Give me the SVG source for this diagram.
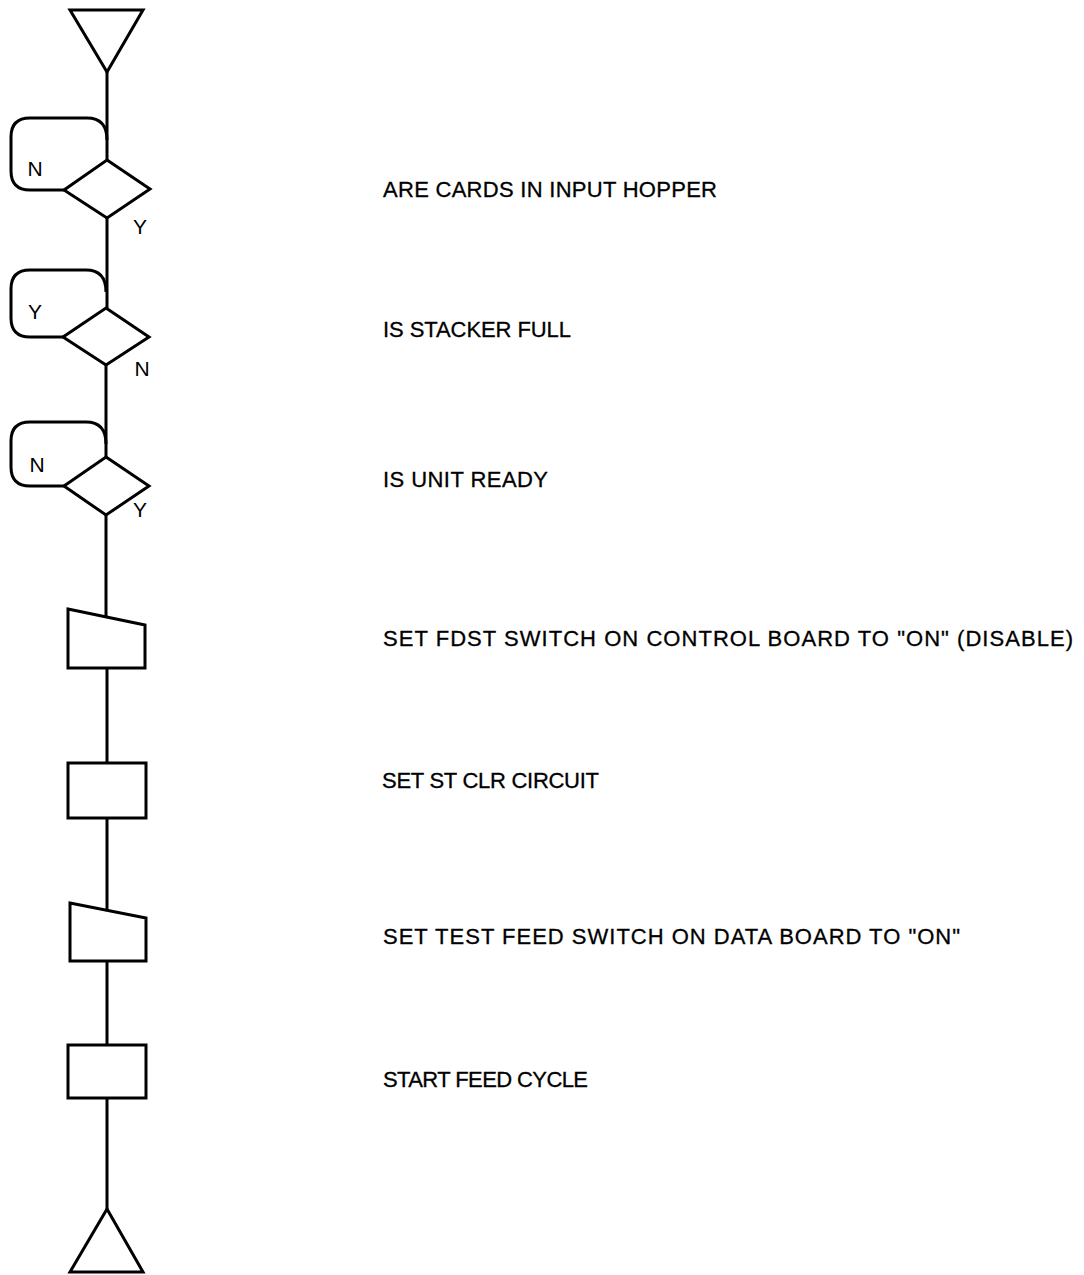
<svg xmlns="http://www.w3.org/2000/svg" width="1084" height="1275" viewBox="0 0 1084 1275">
<style>
.s{fill:#fff;stroke:#000;stroke-width:3;stroke-linejoin:miter}
.c{fill:none;stroke:#000;stroke-width:3}
.t{font-family:"Liberation Sans",Arial,sans-serif;font-size:22px;fill:#000;stroke:#000;stroke-width:0.3}
.l{font-family:"Liberation Sans",Arial,sans-serif;font-size:21px;fill:#000;text-anchor:middle}
</style>
<rect width="1084" height="1275" fill="#fff"/>
<g id="connectors">
<path class="c" d="M107,72V160M107,218V308M106,365V457M106,515V617M107,668V763M107,818V910M107,961V1045M107,1098V1209"/>
<path class="c" d="M64,190H30Q11,190 11,171V137Q11,118 30,118H87Q107,118 107,140"/>
<path class="c" d="M63,337H30Q11,337 11,318V289Q11,270 30,270H86Q106,270 106,292"/>
<path class="c" d="M64,486H30Q11,486 11,467V441Q11,422 30,422H86Q106,422 106,444"/>
<text class="l" x="35" y="176">N</text>
<text class="l" x="140" y="234">Y</text>
<text class="l" x="35" y="319">Y</text>
<text class="l" x="142" y="376">N</text>
<text class="l" x="37" y="472">N</text>
<text class="l" x="140" y="517">Y</text>
</g>
<g id="start"><polygon class="s" points="70,10 143,10 107,72"/></g>
<g id="q1"><polygon class="s" points="107,160 150,189 107,218 64,190"/><text class="t" x="383" y="197" textLength="334" lengthAdjust="spacing">ARE CARDS IN INPUT HOPPER</text></g>
<g id="q2"><polygon class="s" points="106,308 149,337 106,365 63,337"/><text class="t" x="383" y="337" textLength="188" lengthAdjust="spacing">IS STACKER FULL</text></g>
<g id="q3"><polygon class="s" points="106,457 149,486 106,515 64,486"/><text class="t" x="383" y="487" textLength="165" lengthAdjust="spacing">IS UNIT READY</text></g>
<g id="m1"><polygon class="s" points="68,609 145,625 145,668 68,668"/><text class="t" x="383" y="646" textLength="690" lengthAdjust="spacing">SET FDST SWITCH ON CONTROL BOARD TO "ON" (DISABLE)</text></g>
<g id="p1"><rect class="s" x="68" y="763" width="78" height="55"/><text class="t" x="382" y="788" textLength="217" lengthAdjust="spacing">SET ST CLR CIRCUIT</text></g>
<g id="m2"><polygon class="s" points="70,903 146,918 146,961 70,961"/><text class="t" x="383" y="944" textLength="577" lengthAdjust="spacing">SET TEST FEED SWITCH ON DATA BOARD TO "ON"</text></g>
<g id="p2"><rect class="s" x="68" y="1045" width="78" height="53"/><text class="t" x="383" y="1087" textLength="205" lengthAdjust="spacing">START FEED CYCLE</text></g>
<g id="end"><polygon class="s" points="107,1209 143,1272 70,1272"/></g>
</svg>
